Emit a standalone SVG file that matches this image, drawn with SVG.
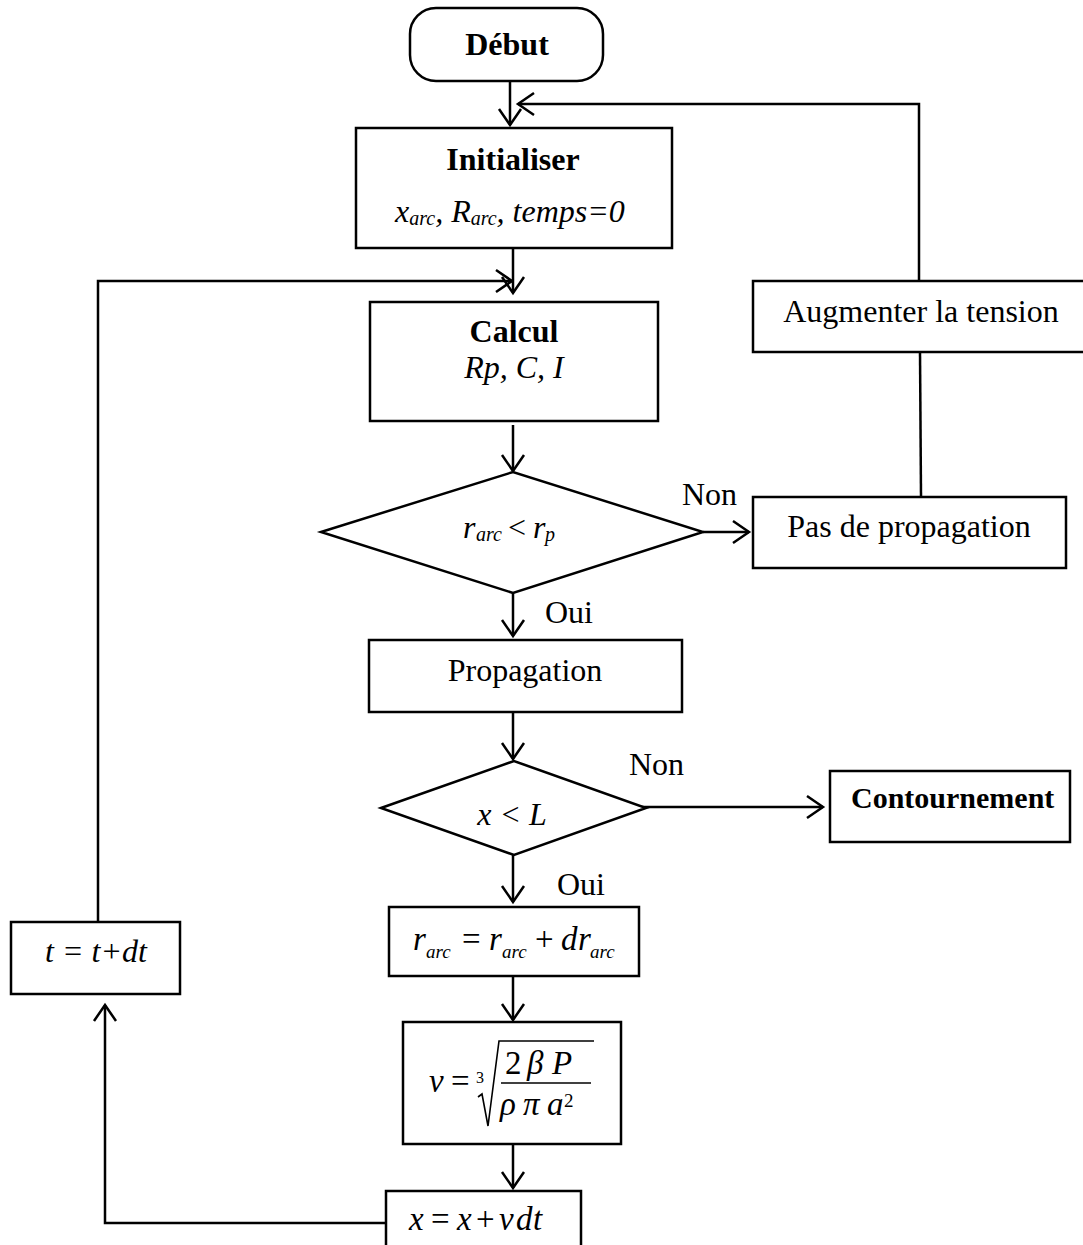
<svg xmlns="http://www.w3.org/2000/svg" width="1083" height="1245" viewBox="0 0 1083 1245">
<style>
.box{fill:#fff;stroke:#000;stroke-width:2.5}
.ln{fill:none;stroke:#000;stroke-width:2.5}
.t{font-family:"Liberation Serif","Times New Roman",serif;font-size:32px;fill:#000}
.b{font-weight:bold}
.i{font-style:italic}
.c{text-anchor:middle}
.sub{font-size:20px}
.eq{font-size:33px}
.eqs{font-size:19px}
</style>
<defs>
<marker id="ah" viewBox="-20 -13 23 26" refX="0" refY="0" markerWidth="23" markerHeight="26" markerUnits="userSpaceOnUse" orient="auto">
<path d="M-16,-11 L0,0 L-16,11" fill="none" stroke="#000" stroke-width="2.5"/>
</marker>
</defs>
<rect width="1083" height="1245" fill="#fff"/>

<g id="connectors">
<line class="ln" x1="510" y1="81" x2="510" y2="125" marker-end="url(#ah)"/>
<line class="ln" x1="921" y1="497" x2="920" y2="352"/>
<polyline class="ln" points="919,281 919,104 518,104" marker-end="url(#ah)"/>
<line class="ln" x1="513" y1="248" x2="513" y2="293" marker-end="url(#ah)"/>
<polyline class="ln" points="98,922 98,281 512,281" marker-end="url(#ah)"/>
<line class="ln" x1="513" y1="425" x2="513" y2="471" marker-end="url(#ah)"/>
<line class="ln" x1="703" y1="532" x2="749" y2="532" marker-end="url(#ah)"/>
<line class="ln" x1="513" y1="593" x2="513" y2="636" marker-end="url(#ah)"/>
<line class="ln" x1="513" y1="712" x2="513" y2="759" marker-end="url(#ah)"/>
<line class="ln" x1="637" y1="807" x2="823" y2="807" marker-end="url(#ah)"/>
<line class="ln" x1="513" y1="855" x2="513" y2="902" marker-end="url(#ah)"/>
<line class="ln" x1="513" y1="976" x2="513" y2="1020" marker-end="url(#ah)"/>
<line class="ln" x1="513" y1="1144" x2="513" y2="1188" marker-end="url(#ah)"/>
<polyline class="ln" points="386,1223 105,1223 105,1005" marker-end="url(#ah)"/>
</g>

<g id="debut">
<rect class="box" x="410" y="8" width="193" height="73" rx="26"/>
<text class="t b c" x="507" y="55">Début</text>
</g>

<g id="initialiser">
<rect class="box" x="356" y="128" width="316" height="120"/>
<text class="t b c" x="513" y="170">Initialiser</text>
<text class="t i" x="395" y="222">x<tspan class="sub" dy="3">arc</tspan><tspan dy="-3">, R</tspan><tspan class="sub" dy="3">arc</tspan><tspan dy="-3">, temps=0</tspan></text>
</g>

<g id="calcul">
<rect class="box" x="370" y="302" width="288" height="119"/>
<text class="t b c" x="514" y="342">Calcul</text>
<text class="t i c" x="514" y="378">Rp, C, I</text>
</g>

<g id="augmenter">
<rect class="box" x="753" y="281" width="340" height="71"/>
<text class="t c" x="921" y="322">Augmenter la tension</text>
</g>

<g id="test-r">
<polygon class="box" points="321,532 513,472 703,532 513,593"/>
<text class="t i" x="463" y="538">r</text>
<text class="t i sub" x="476" y="541">arc</text>
<text class="t" x="508" y="538">&lt;</text>
<text class="t i" x="533" y="538">r</text>
<text class="t i sub" x="545" y="541">p</text>
</g>
<text class="t" x="682" y="505">Non</text>

<g id="pas">
<rect class="box" x="753" y="497" width="313" height="71"/>
<text class="t c" x="909" y="537">Pas de propagation</text>
</g>

<text class="t" x="545" y="623">Oui</text>

<g id="propagation">
<rect class="box" x="369" y="640" width="313" height="72"/>
<text class="t c" x="525" y="681">Propagation</text>
</g>

<g id="test-x">
<polygon class="box" points="381,808 514,761 646,808 514,855"/>
<text class="t i c" x="512" y="825">x &lt; L</text>
</g>
<text class="t" x="629" y="775">Non</text>

<g id="contournement">
<rect class="box" x="830" y="771" width="240" height="71"/>
<text class="t b" x="851" y="808" style="font-size:30px">Contournement</text>
</g>

<text class="t" x="557" y="895">Oui</text>

<g id="rarc">
<rect class="box" x="389" y="907" width="250" height="69"/>
<text class="t i eq" x="413" y="950">r</text>
<text class="t i eqs" x="426" y="958">arc</text>
<text class="t eq" x="462" y="950">=</text>
<text class="t i eq" x="489" y="950">r</text>
<text class="t i eqs" x="502" y="958">arc</text>
<text class="t eq" x="535" y="950">+</text>
<text class="t i eq" x="561" y="950">d</text>
<text class="t i eq" x="578" y="950">r</text>
<text class="t i eqs" x="590" y="958">arc</text>
</g>

<g id="vitesse">
<rect class="box" x="403" y="1022" width="218" height="122"/>
<text class="t i eq" x="429" y="1092">v</text>
<text class="t eq" x="451" y="1092">=</text>
<text class="t" x="476" y="1083" style="font-size:16px">3</text>
<path d="M478,1097 L482,1094 L488,1126 L499,1041 L594,1041" fill="none" stroke="#000" stroke-width="1.6"/>
<text class="t eq" x="505" y="1074">2</text>
<text class="t i eq" x="527" y="1074">β</text>
<text class="t i eq" x="552" y="1074">P</text>
<line x1="501" y1="1083" x2="591" y2="1083" stroke="#000" stroke-width="1.6"/>
<text class="t i eq" x="500" y="1115">ρ</text>
<text class="t i eq" x="523" y="1115">π</text>
<text class="t i eq" x="547" y="1115">a</text>
<text class="t" x="564" y="1107" style="font-size:19px">2</text>
</g>

<g id="position">
<rect class="box" x="386" y="1191" width="195" height="70"/>
<text class="t i eq" x="409" y="1230">x</text>
<text class="t eq" x="431" y="1230">=</text>
<text class="t i eq" x="457" y="1230">x</text>
<text class="t eq" x="476" y="1230">+</text>
<text class="t i eq" x="499" y="1230">v</text>
<text class="t i eq" x="516" y="1230">d</text>
<text class="t i eq" x="533" y="1230">t</text>
</g>

<g id="temps">
<rect class="box" x="11" y="922" width="169" height="72"/>
<text class="t i c" x="96" y="962">t = t+dt</text>
</g>
</svg>
